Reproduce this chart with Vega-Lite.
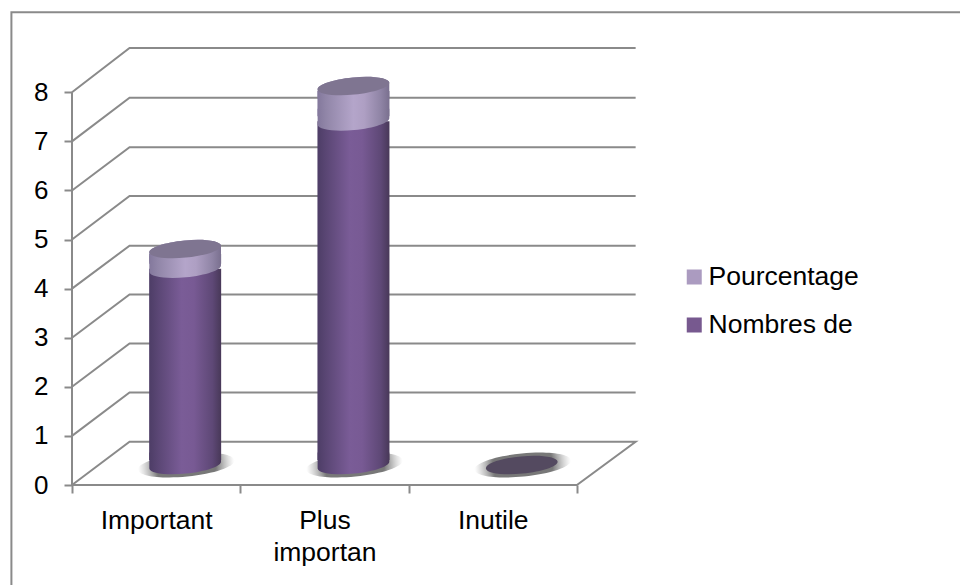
{"$schema":"https://vega.github.io/schema/vega-lite/v6.json","width":572,"height":440,"autosize":"none","padding":{"left":72,"top":45,"right":316,"bottom":100},"background":"#ffffff","config":{"view":{"stroke":null},"font":"Liberation Sans","scale":{"continuousPadding":0}},"datasets":{"grille":[
{"trace":"cadre","rang":1,"cx":-0.36,"cy":-2.1},{"trace":"cadre","rang":2,"cx":-0.36,"cy":9.629},{"trace":"cadre","rang":3,"cx":5.3,"cy":9.629},
{"trace":"axe","rang":1,"cx":0,"cy":0},{"trace":"axe","rang":2,"cx":0,"cy":8},
{"trace":"sol","rang":1,"cx":0,"cy":0},{"trace":"sol","rang":2,"cx":3,"cy":0},{"trace":"sol","rang":3,"cx":3.349,"cy":0.882},{"trace":"sol","rang":4,"cx":0.342,"cy":0.882},{"trace":"sol","rang":5,"cx":0,"cy":0},
{"trace":"n1","rang":1,"cx":0,"cy":1},{"trace":"n1","rang":2,"cx":0.342,"cy":1.884},{"trace":"n1","rang":3,"cx":3.349,"cy":1.884},
{"trace":"n2","rang":1,"cx":0,"cy":2},{"trace":"n2","rang":2,"cx":0.342,"cy":2.882},{"trace":"n2","rang":3,"cx":3.349,"cy":2.882},
{"trace":"n3","rang":1,"cx":0,"cy":3},{"trace":"n3","rang":2,"cx":0.342,"cy":3.881},{"trace":"n3","rang":3,"cx":3.349,"cy":3.881},
{"trace":"n4","rang":1,"cx":0,"cy":4},{"trace":"n4","rang":2,"cx":0.342,"cy":4.875},{"trace":"n4","rang":3,"cx":3.349,"cy":4.875},
{"trace":"n5","rang":1,"cx":0,"cy":5},{"trace":"n5","rang":2,"cx":0.342,"cy":5.887},{"trace":"n5","rang":3,"cx":3.349,"cy":5.887},
{"trace":"n6","rang":1,"cx":0,"cy":6},{"trace":"n6","rang":2,"cx":0.342,"cy":6.879},{"trace":"n6","rang":3,"cx":3.349,"cy":6.879},
{"trace":"n7","rang":1,"cx":0,"cy":7},{"trace":"n7","rang":2,"cx":0.342,"cy":7.889},{"trace":"n7","rang":3,"cx":3.349,"cy":7.889},
{"trace":"n8","rang":1,"cx":0,"cy":8},{"trace":"n8","rang":2,"cx":0.342,"cy":8.902},{"trace":"n8","rang":3,"cx":3.349,"cy":8.902}
],"barres":[
{"categorie":"Important","serie":"Nombres de","ordre":1,"position":0.5,"valeur":4},
{"categorie":"Important","serie":"Pourcentage","ordre":2,"position":0.5,"valeur":0.4},
{"categorie":"Plus important","serie":"Nombres de","ordre":1,"position":1.5,"valeur":7},
{"categorie":"Plus important","serie":"Pourcentage","ordre":2,"position":1.5,"valeur":0.72},
{"categorie":"Inutile","serie":"Nombres de","ordre":1,"position":2.5,"valeur":0},
{"categorie":"Inutile","serie":"Pourcentage","ordre":2,"position":2.5,"valeur":0}
]},
"layer":[
{"data":{"name":"grille"},"mark":{"type":"line","color":"#8a8a8a","strokeWidth":2,"clip":false},"encoding":{
"x":{"field":"cx","type":"quantitative","scale":{"domain":[0,3.3987],"nice":false,"zero":false,"padding":0},"axis":{"title":null,"grid":false,"domain":false,"values":[0,0.5,1,1.5,2,2.5,3],"tickSize":8,"tickWidth":2,"tickColor":"#8a8a8a","tickOpacity":{"condition":{"test":"datum.value % 1 === 0","value":1},"value":0},"labelExpr":"datum.value == 0.5 ? 'Important' : datum.value == 1.5 ? ['Plus','importan'] : datum.value == 2.5 ? 'Inutile' : ''","labelFont":"Liberation Sans","labelFontSize":26.5,"labelColor":"#000000","labelPadding":14,"labelLineHeight":32,"labelOverlap":false,"labelBound":false,"labelFlush":false,"labelAngle":0,"labelAlign":"center","labelBaseline":"top"}},
"y":{"field":"cy","type":"quantitative","scale":{"domain":[0,8.963],"nice":false,"zero":false},"axis":{"title":null,"grid":false,"domain":false,"values":[0,1,2,3,4,5,6,7,8],"tickSize":8,"tickWidth":2,"tickColor":"#8a8a8a","labelFont":"Liberation Sans","labelFontSize":26,"labelColor":"#000000","labelPadding":16,"labelOverlap":false,"labelBound":false,"labelFlush":false}},
"detail":{"field":"trace"},"order":{"field":"rang"}}},
{"data":{"name":"barres"},"transform":[{"stack":"valeur","groupby":["categorie"],"sort":[{"field":"ordre","order":"ascending"}],"as":["y0","y1"]}],
"encoding":{"x":{"field":"position","type":"quantitative","scale":{"domain":[0,3.3987],"nice":false,"zero":false,"padding":0},"title":null}},
"layer":[
{"transform":[{"filter":"datum.serie == 'Nombres de'"}],"mark":{"type":"point","filled":true,"opacity":1,"size":9400,"xOffset":30,"yOffset":-20,"shape":"M -0.9954 0.096 C -0.9827 0.228 -0.5268 0.292 0.023 0.239 C 0.5728 0.186 1.0081 0.036 0.9954 -0.096 C 0.9827 -0.228 0.5268 -0.292 -0.023 -0.239 C -0.5728 -0.186 -1.0081 -0.036 -0.9954 0.096 Z","fill":{"gradient":"radial","x1":0.5,"y1":0.5,"r1":0,"x2":0.5,"y2":0.5,"r2":0.5,"stops":[{"offset":0,"color":"#787878"},{"offset":0.62,"color":"#787878"},{"offset":1,"color":"rgba(170,170,170,0)"}]}},"encoding":{"y":{"field":"y0","type":"quantitative","scale":{"domain":[0,8.963],"nice":false,"zero":false},"title":null}}},
{"transform":[{"filter":"datum.valeur > 0"}],"mark":{"type":"bar","orient":"vertical","size":66,"xOffset":29,"yOffset":-15,"y2Offset":-25},"encoding":{"y":{"field":"y1","type":"quantitative","scale":{"domain":[0,8.963],"nice":false,"zero":false},"title":null},"y2":{"field":"y0"},"color":{"field":"serie","type":"nominal","scale":{"domain":["Pourcentage","Nombres de"],"range":["#ab9bc0","#77598f"]},"legend":{"title":null,"orient":"none","legendX":609,"legendY":217,"symbolType":"square","symbolSize":225,"symbolStrokeWidth":0,"symbolOpacity":1,"labelFont":"Liberation Sans","labelFontSize":26.5,"labelColor":"#000000","labelOffset":1,"rowPadding":18,"symbolOffset":0,"clipHeight":30}}}},
{"transform":[{"filter":"datum.serie == 'Nombres de' && datum.valeur > 0"}],"mark":{"type":"bar","orient":"vertical","size":72,"xOffset":29,"yOffset":-20,"y2Offset":-25,"fill":{"gradient":"linear","x1":0,"y1":0,"x2":1,"y2":0,"stops":[{"offset":0,"color":"#4d3d66"},{"offset":0.12,"color":"#5a4674"},{"offset":0.45,"color":"#7a5c97"},{"offset":0.62,"color":"#785a94"},{"offset":0.88,"color":"#5e4876"},{"offset":1,"color":"#483858"}]}},"encoding":{"y":{"field":"y1","type":"quantitative","scale":{"domain":[0,8.963],"nice":false,"zero":false},"title":null},"y2":{"field":"y0"}}},
{"transform":[{"filter":"datum.serie == 'Nombres de' && datum.valeur > 0"}],"mark":{"type":"point","filled":true,"opacity":1,"size":5184,"xOffset":29,"yOffset":-20,"shape":"M -0.9954 0.096 C -0.9827 0.228 -0.5268 0.292 0.023 0.239 C 0.5728 0.186 1.0081 0.036 0.9954 -0.096 L 0.9954 -0.35 L -0.9954 -0.35 Z","fill":{"gradient":"linear","x1":0,"y1":0,"x2":1,"y2":0,"stops":[{"offset":0,"color":"#4d3d66"},{"offset":0.12,"color":"#5a4674"},{"offset":0.45,"color":"#7a5c97"},{"offset":0.62,"color":"#785a94"},{"offset":0.88,"color":"#5e4876"},{"offset":1,"color":"#483858"}]}},"encoding":{"y":{"field":"y0","type":"quantitative","scale":{"domain":[0,8.963],"nice":false,"zero":false},"title":null}}},
{"transform":[{"filter":"datum.serie == 'Pourcentage' && datum.valeur > 0"}],"mark":{"type":"bar","orient":"vertical","size":72,"xOffset":29,"yOffset":-15,"y2Offset":-25,"fill":{"gradient":"linear","x1":0,"y1":0,"x2":1,"y2":0,"stops":[{"offset":0,"color":"#83789c"},{"offset":0.12,"color":"#9186a8"},{"offset":0.5,"color":"#b4a5ca"},{"offset":0.65,"color":"#ae9fc3"},{"offset":0.88,"color":"#8f84a5"},{"offset":1,"color":"#7a708f"}]}},"encoding":{"y":{"field":"y1","type":"quantitative","scale":{"domain":[0,8.963],"nice":false,"zero":false},"title":null},"y2":{"field":"y0"}}},
{"transform":[{"filter":"datum.serie == 'Pourcentage' && datum.valeur > 0"}],"mark":{"type":"point","filled":true,"opacity":1,"size":5184,"xOffset":29,"yOffset":-20,"shape":"M -0.9954 0.096 C -0.9827 0.228 -0.5268 0.292 0.023 0.239 C 0.5728 0.186 1.0081 0.036 0.9954 -0.096 L 0.9954 -0.35 L -0.9954 -0.35 Z","fill":{"gradient":"linear","x1":0,"y1":0,"x2":1,"y2":0,"stops":[{"offset":0,"color":"#83789c"},{"offset":0.12,"color":"#9186a8"},{"offset":0.5,"color":"#b4a5ca"},{"offset":0.65,"color":"#ae9fc3"},{"offset":0.88,"color":"#8f84a5"},{"offset":1,"color":"#7a708f"}]}},"encoding":{"y":{"field":"y0","type":"quantitative","scale":{"domain":[0,8.963],"nice":false,"zero":false},"title":null}}},
{"transform":[{"filter":"datum.serie == 'Pourcentage' && datum.valeur > 0"}],"mark":{"type":"point","filled":true,"opacity":1,"size":5184,"xOffset":29,"yOffset":-20,"shape":"M -0.9954 0.096 C -1.0081 -0.036 -0.5728 -0.186 -0.023 -0.239 C 0.5268 -0.292 0.9827 -0.228 0.9954 -0.096 L 0.9954 0.35 L -0.9954 0.35 Z","fill":{"gradient":"linear","x1":0,"y1":0,"x2":1,"y2":0,"stops":[{"offset":0,"color":"#83789c"},{"offset":0.12,"color":"#9186a8"},{"offset":0.5,"color":"#b4a5ca"},{"offset":0.65,"color":"#ae9fc3"},{"offset":0.88,"color":"#8f84a5"},{"offset":1,"color":"#7a708f"}]}},"encoding":{"y":{"field":"y1","type":"quantitative","scale":{"domain":[0,8.963],"nice":false,"zero":false},"title":null}}},
{"transform":[{"filter":"datum.serie == 'Pourcentage'"}],"mark":{"type":"point","filled":true,"opacity":1,"size":5184,"xOffset":29,"yOffset":-20,"shape":"M -0.9954 0.096 C -0.9827 0.228 -0.5268 0.292 0.023 0.239 C 0.5728 0.186 1.0081 0.036 0.9954 -0.096 C 0.9827 -0.228 0.5268 -0.292 -0.023 -0.239 C -0.5728 -0.186 -1.0081 -0.036 -0.9954 0.096 Z"},"encoding":{"y":{"field":"y1","type":"quantitative","scale":{"domain":[0,8.963],"nice":false,"zero":false},"title":null},"fill":{"condition":{"test":"datum.y1 > 0","value":"#7f7591"},"value":"#544a60"}}}
]}
]}
